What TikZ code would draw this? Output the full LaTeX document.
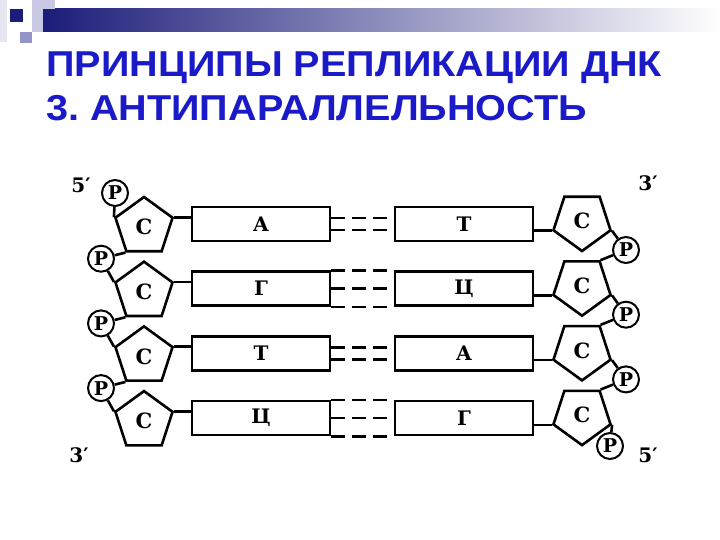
\documentclass[tikz,border=0pt]{standalone}
\usepackage{fontspec}
\newfontfamily\titlefont{Liberation Sans}
\newfontfamily\diagfont{DejaVu Serif}
\usetikzlibrary{shapes.geometric}
\usepackage{xcolor}
\definecolor{titleblue}{HTML}{1A1AC8}
\definecolor{barnavy}{HTML}{1C1C7A}
\definecolor{lavender}{HTML}{C8C8E4}
\definecolor{midlav}{HTML}{9494C8}
\definecolor{palelav}{HTML}{E6E6F2}

\begin{document}
\begin{tikzpicture}[
    x=1pt, y=-1pt,
    line width=2.6pt,
    sugar/.style={regular polygon, regular polygon sides=5, draw, minimum size=60pt,
      inner sep=0pt, font=\diagfont\bfseries\fontsize{21}{21}\selectfont},
    sugarR/.style={sugar, shape border rotate=180},
    base/.style={draw, minimum width=138pt, minimum height=34pt, inner sep=0pt,
      font=\diagfont\bfseries\fontsize{20}{20}\selectfont},
    phos/.style={circle, draw, minimum size=26pt, inner sep=0pt, line width=2pt,
      font=\diagfont\bfseries\fontsize{19}{19}\selectfont},
    endlbl/.style={font=\diagfont\bfseries\fontsize{20}{20}\selectfont, inner sep=0pt},
    hbond/.style={dash pattern=on 14pt off 7pt},
    ttl/.style={anchor=base west, inner sep=0pt, text=titleblue, xscale=1.1,
      transform shape, font=\titlefont\bfseries\fontsize{36}{36}\selectfont},
  ]
  \useasboundingbox (0,0) rectangle (720,540);

  % slide decoration
  \fill[palelav] (0,0) rectangle (7,42);
  \shade[left color=barnavy, right color=white] (43,9) rectangle (720,32);
  \fill[lavender] (32,0) rectangle (55,9);
  \fill[lavender] (32,9) rectangle (43,32);
  \fill[midlav] (20,32) rectangle (32,43);
  \fill[barnavy] (10,9) rectangle (23,22);

  % title
  \node[ttl] (title1) at (45,77) {ПРИНЦИПЫ РЕПЛИКАЦИИ ДНК};
  \node[ttl] (title2) at (45,121) {3.\hspace{-0.1em} АНТИПАРАЛЛЕЛЬНОСТЬ};

  % base pairs
  \foreach \i/\l/\r/\n in {1/А/Т/2, 2/Г/Ц/3, 3/Т/А/2, 4/Ц/Г/3} {
    \pgfmathsetmacro\yc{224+64.7*(\i-1)}
    \node[sugar] (lS\i) at (144,\yc+3) {С};
    \node[base] (lB\i) at (261,\yc) {\l};
    \node[base] (rB\i) at (464,\yc) {\r};
    \node[sugarR] (rS\i) at (582,\yc-3) {С};
    \draw (lS\i.corner 5) -- (lS\i.corner 5 -| lB\i.west);
    \draw (rB\i.east |- rS\i.corner 5) -- (rS\i.corner 5);
  }
  % hydrogen bonds
  \foreach \i in {1,3} {
    \draw[hbond] ([yshift=6pt]lB\i.east) -- ([yshift=6pt]rB\i.west);
    \draw[hbond] ([yshift=-6pt]lB\i.east) -- ([yshift=-6pt]rB\i.west);
  }
  \foreach \i in {2,4} {
    \draw[hbond] (lB\i.north east) -- (rB\i.north west);
    \draw[hbond] (lB\i.east) -- (rB\i.west);
    \draw[hbond] (lB\i.south east) -- (rB\i.south west);
  }

  % phosphates, left strand
  \node[phos] (lP1) at (115,193) {P};
  \draw (lP1) -- (lS1.corner 2);
  \foreach \i/\j in {2/1, 3/2, 4/3} {
    \node[phos] (lP\i) at (101,{224+64.7*(\i-1)-30}) {P};
    \draw (lS\j.corner 3) -- (lP\i) -- (lS\i.corner 2);
  }

  % phosphates, right strand
  \foreach \i/\j in {1/2, 2/3, 3/4} {
    \node[phos] (rP\i) at (626,{224+64.7*(\i-1)+26}) {P};
    \draw (rS\i.corner 2) -- (rP\i) -- (rS\j.corner 3);
  }
  \node[phos] (rP4) at (610,446) {P};
  \draw (rS4.corner 2) -- (rP4);

  % strand ends
  \node[endlbl] (lTop) at (81,185) {5′};
  \node[endlbl] (rTop) at (648,183) {3′};
  \node[endlbl] (lBot) at (79,455) {3′};
  \node[endlbl] (rBot) at (648,455) {5′};
\end{tikzpicture}
\end{document}
